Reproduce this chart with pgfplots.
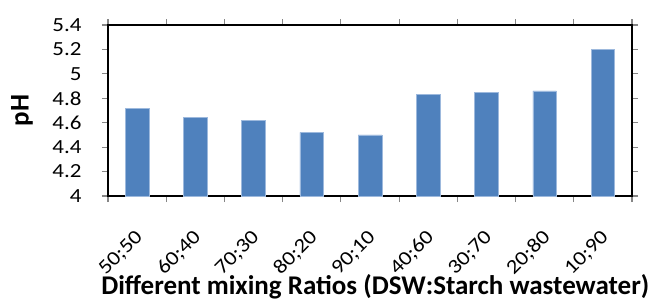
\documentclass[border=0pt]{standalone}
\usepackage{fontspec}
\setmainfont{Carlito}
\newfontfamily\tickfont[FakeStretch=1.15]{Carlito}
\usepackage{pgfplots}
\pgfplotsset{compat=1.18}
\definecolor{barblue}{HTML}{4F81BD}
\definecolor{baredge}{HTML}{9DB9DD}
\definecolor{tickgray}{HTML}{868686}
\begin{document}
\begin{tikzpicture}[x=1bp,y=1bp]
\begin{axis}[
  at={(0,0)}, anchor=south west,
  scale only axis, width=524bp, height=171bp,
  xmin=-0.5, xmax=8.5, ymin=4, ymax=5.4,
  ytick={4,4.2,4.4,4.6,4.8,5,5.2,5.4},
  yticklabels={4,4.2,4.4,4.6,4.8,5,5.2,5.4},
  x tick label as interval,
  xtick={-0.5,0.5,1.5,2.5,3.5,4.5,5.5,6.5,7.5,8.5},
  xticklabels={50;50,60;40,70;30,80;20,90;10,40;60,30;70,20;80,10;90},
  tick align=outside,
  major tick length=6bp,
  every tick/.style={tickgray, line width=1.2bp},
  axis line style={black, line width=1.5bp},
  tick label style={font=\tickfont\fontsize{20bp}{22bp}\selectfont},
  yticklabel style={xshift=-17bp},
  xticklabel style={yshift=-30bp, xshift=5bp, rotate=45, anchor=east},
  /pgf/number format/assume math mode=true,
  xlabel={Different mixing Ratios (DSW:Starch wastewater)},
  ylabel={pH},
  xlabel style={font=\bfseries\fontsize{27bp}{29bp}\selectfont, at={(axis description cs:0.51,0)}, anchor=base, yshift=-98bp},
  ylabel style={font=\bfseries\fontsize{27bp}{29bp}\selectfont, at={(axis description cs:-0.164,0.5)}, anchor=center},
  ybar, bar width=23.6bp,
  clip=false,
]
\addplot[fill=barblue, draw=baredge, line width=0.6bp] coordinates {
  (0,4.72) (1,4.645) (2,4.62) (3,4.52) (4,4.50) (5,4.83) (6,4.85) (7,4.86) (8,5.20)
};
\draw[line width=2.6bp, black] (rel axis cs:0,1) -- (rel axis cs:1,1) -- (rel axis cs:1,0);
\end{axis}
\pgfresetboundingbox
\path (-108,-104) rectangle (544,196);
\end{tikzpicture}
\end{document}
